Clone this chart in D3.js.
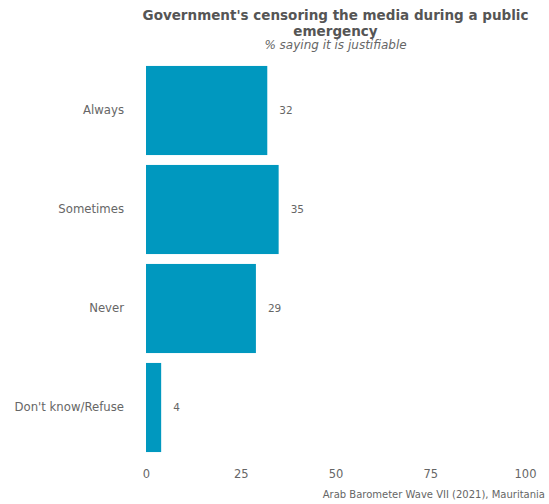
<!DOCTYPE html>
<html><head><meta charset="utf-8">
<script src="https://cdn.jsdelivr.net/npm/d3@7"></script>
<style>body{margin:0;background:#fff}</style>
</head><body>
<script>
const categories = ["Always", "Sometimes", "Never", "Don't know/Refuse"];
const values = [32, 35, 29, 4];
const tickValues = [0, 25, 50, 75, 100];
const titleLines = ["Government's censoring the media during a public", "emergency"];
const subtitle = "% saying it is justifiable";
const caption = "Arab Barometer Wave VII (2021), Mauritania";

const W = 549, H = 504;
const font = "'DejaVu Sans', sans-serif";
const svg = d3.select("body").append("svg").attr("width", W).attr("height", H)
  .style("font-family", font);

const x = d3.scaleLinear().domain([0, 100]).range([146, 525]);
const y = d3.scaleBand().domain(categories).range([61, 457]).paddingInner(0.1).paddingOuter(0.05);

svg.selectAll("rect.bar").data(categories).join("rect").attr("class", "bar")
  .attr("x", x(0)).attr("y", d => y(d))
  .attr("width", (d, i) => x(values[i]) - x(0)).attr("height", y.bandwidth())
  .attr("fill", "#0098BF");

svg.selectAll("text.val").data(categories).join("text").attr("class", "val")
  .attr("x", (d, i) => x(values[i]) + 12).attr("y", d => y(d) + y.bandwidth() / 2)
  .attr("dy", "0.35em").attr("font-size", 10.5).attr("fill", "#666")
  .text((d, i) => values[i]);

const yAxis = svg.append("g").attr("transform", `translate(${x(0) - 8},0)`)
  .call(d3.axisLeft(y).tickSize(0).tickPadding(14));
yAxis.select(".domain").remove();
yAxis.selectAll("text").attr("font-size", 11.7).attr("fill", "#666").style("font-family", font);

const xAxis = svg.append("g").attr("transform", `translate(0,466)`)
  .call(d3.axisBottom(x).tickValues(tickValues).tickSize(0).tickPadding(4));
xAxis.select(".domain").remove();
xAxis.selectAll("text").attr("font-size", 11.5).attr("fill", "#666").style("font-family", font);

const cx = (x(0) + x(100)) / 2;
svg.append("text").attr("x", cx).attr("y", 20).attr("text-anchor", "middle")
  .attr("font-size", 13.5).attr("font-weight", "bold").attr("fill", "#555").text(titleLines[0]);
svg.append("text").attr("x", cx).attr("y", 35.5).attr("text-anchor", "middle")
  .attr("font-size", 13.5).attr("font-weight", "bold").attr("fill", "#555").text(titleLines[1]);
svg.append("text").attr("x", cx).attr("y", 48.5).attr("text-anchor", "middle")
  .attr("font-size", 12).attr("font-style", "italic").attr("fill", "#666").text(subtitle);

svg.append("text").attr("x", 545).attr("y", 498).attr("text-anchor", "end")
  .attr("font-size", 10).attr("fill", "#666").text(caption);
</script>
</body></html>
